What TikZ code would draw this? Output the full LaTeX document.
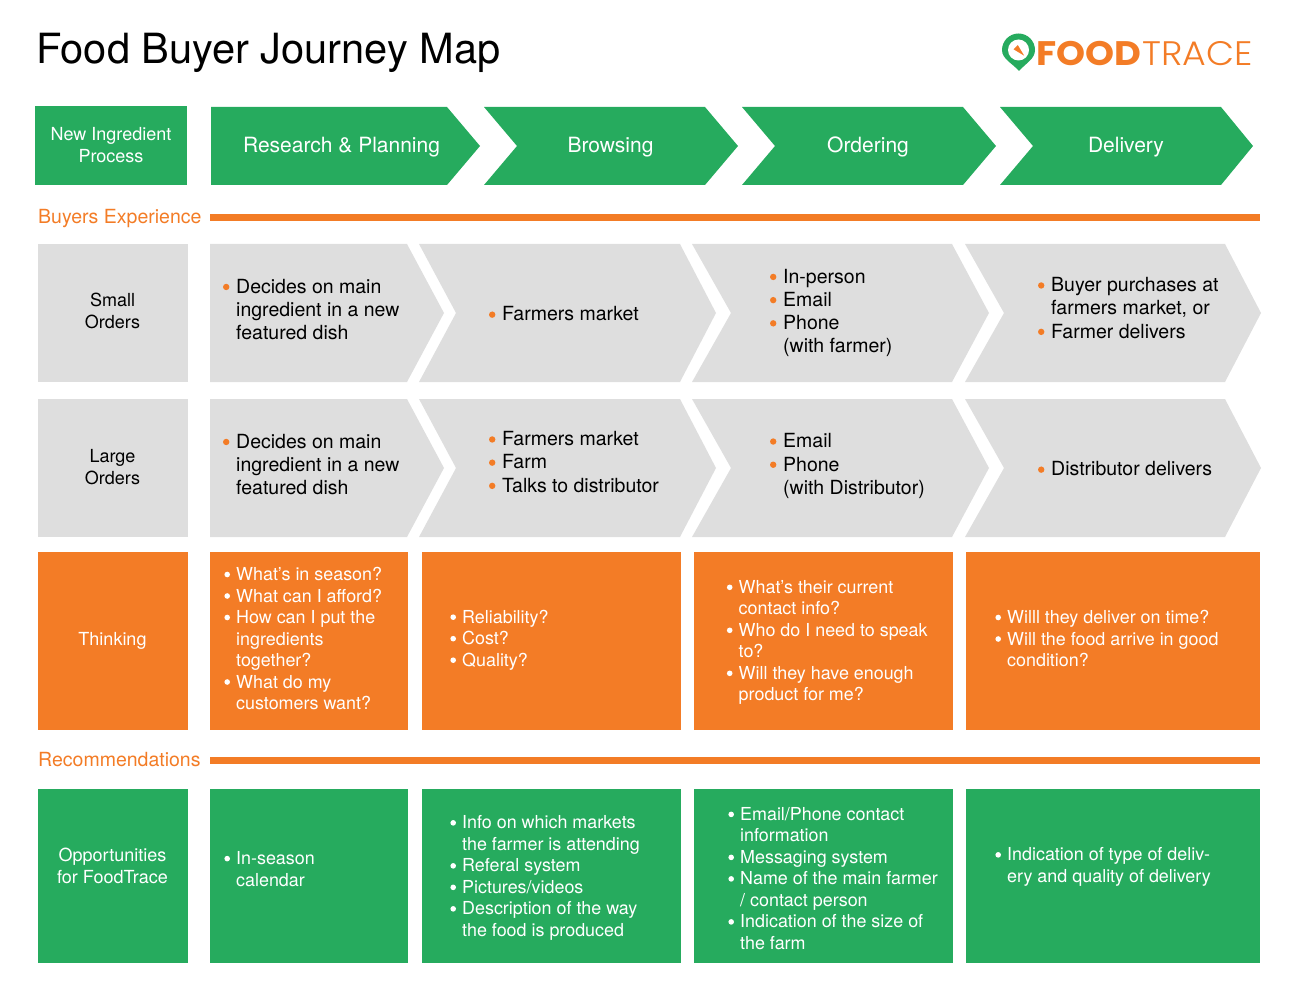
\documentclass[tikz,border=0pt]{standalone}
\usepackage{fontspec}
\setmainfont{TeX Gyre Heros}
\newfontfamily\logobold{Poppins}[UprightFont=* Bold]
\newfontfamily\logolight{Poppins}[UprightFont=* Light]
\definecolor{ftgreen}{RGB}{38,171,94}
\definecolor{ftorange}{RGB}{243,124,38}
\definecolor{ftgrey}{RGB}{222,222,222}
\newcommand{\bl}{\leavevmode\llap{\tikz[baseline=-6pt]\fill[white] (0pt,0pt) circle[radius=2.8pt];\hspace{6.2pt}}}
\newcommand{\obl}{\leavevmode\llap{\tikz[baseline=-6.3pt]\fill[ftorange] (0pt,0pt) circle[radius=3.2pt];\hspace{6.8pt}}}
% fill colour, left x, notch x, shoulder x, tip x, top y, bottom y
\newcommand{\Chevron}[7]{\fill[#1] (#2,#6) -- (#4,#6) -- (#5,{(#6+#7)/2}) -- (#4,#7) -- (#2,#7) -- (#3,{(#6+#7)/2}) -- cycle;}
\tikzset{
  greenbox/.style   = {fill=ftgreen, inner sep=0pt},
  orangebox/.style  = {fill=ftorange, inner sep=0pt},
  greybox/.style    = {fill=ftgrey, inner sep=0pt},
  sidetext/.style   = {text=white, align=center, inner sep=0pt, font=\fontsize{18}{21.3}\selectfont},
  headtext/.style   = {text=white, font=\fontsize{21}{26}\selectfont},
  greylist/.style   = {anchor=west, align=left, inner sep=0pt, text=black, font=\fontsize{19.5}{23.2}\selectfont},
  whitelist/.style  = {anchor=west, align=left, inner sep=0pt, text=white, font=\fontsize{17.9}{21.5}\selectfont},
  sectiontext/.style= {anchor=west, inner sep=0pt, text=ftorange, font=\fontsize{19.5}{23}\selectfont}
}
\begin{document}
\begin{tikzpicture}[x=1pt,y=-1pt]
  \useasboundingbox (0,0) rectangle (1307,1000);
  % title and logo
  \node[anchor=west, inner sep=0pt, font=\fontsize{41.6}{50}\selectfont] (title) at (36,53) {Food Buyer Journey Map};
  \fill[ftgreen] (1019,71) .. controls (1012,63) and (1002,59) .. (1002,50) arc[start angle=180, end angle=0, x radius=16.5, y radius=-16.5] .. controls (1035,59) and (1026,63) .. (1019,71) -- cycle;
  \fill[white] (1018.5,50) circle[radius=10.5];
  \fill[ftorange, rotate around={45:(1018.5,50)}] (1018.5,58) -- (1015.5,46) -- (1021.5,46) -- cycle;
  \node[anchor=west, inner sep=0pt, text=ftorange, font=\logobold\fontsize{34}{38}\selectfont] (food) at (1036,54) {\scalebox{1.085}[1]{FOOD}};
  \node[anchor=west, inner sep=0pt, text=ftorange, font=\logolight\fontsize{34}{38}\selectfont] (trace) at (1142,54) {\scalebox{1.07}[1]{TRACE}};
  % header row
  \node[greenbox, minimum width=152, minimum height=79] (process) at (111,146) {};
  \node[sidetext] (processtext) at (111,145) {New Ingredient\\Process};
  \Chevron{ftgreen}{211}{211}{447}{480}{107}{185}
  \Chevron{ftgreen}{484}{517}{705}{738}{107}{185}
  \Chevron{ftgreen}{742}{775}{963}{996}{107}{185}
  \Chevron{ftgreen}{1000}{1033}{1221}{1253}{107}{185}
  \node[headtext] (research) at (341.5,147) {Research \& Planning};
  \node[headtext] (browsing) at (610.5,147) {Browsing};
  \node[headtext] (ordering) at (868,147) {Ordering};
  \node[headtext] (delivery) at (1126,147) {Delivery};
  % buyers experience
  \node[sectiontext] (buyers) at (38,219) {Buyers Experience};
  \fill[ftorange] (210,214) rectangle (1260,221);
  % small orders
  \node[greybox, minimum width=150, minimum height=138] (small) at (112.5,313) {};
  \node[sidetext, text=black] (smalltext) at (112.5,311) {Small\\Orders};
  \Chevron{ftgrey}{210}{210}{407}{444}{244}{382}
  \Chevron{ftgrey}{419}{456}{680}{716}{244}{382}
  \Chevron{ftgrey}{692}{731}{952}{989}{244}{382}
  \Chevron{ftgrey}{965}{1004}{1225}{1261}{244}{382}
  \node[greylist] (small1) at (236,309.5) {\obl Decides on main\\ingredient in a new\\featured dish};
  \node[greylist] (small2) at (502,314) {\obl Farmers market};
  \node[greylist] (small3) at (783,313) {\obl In-person\\\obl Email\\\obl Phone\\(with farmer)};
  \node[greylist] (small4) at (1051,308) {\obl Buyer purchases at\\farmers market, or\\\obl Farmer delivers};
  % large orders
  \node[greybox, minimum width=150, minimum height=138] (large) at (112.5,468) {};
  \node[sidetext, text=black] (largetext) at (112.5,467) {Large\\Orders};
  \Chevron{ftgrey}{210}{210}{407}{444}{399}{537}
  \Chevron{ftgrey}{419}{456}{680}{716}{399}{537}
  \Chevron{ftgrey}{692}{731}{952}{989}{399}{537}
  \Chevron{ftgrey}{965}{1004}{1225}{1261}{399}{537}
  \node[greylist] (large1) at (236,464.5) {\obl Decides on main\\ingredient in a new\\featured dish};
  \node[greylist] (large2) at (502,462) {\obl Farmers market\\\obl Farm\\\obl Talks to distributor};
  \node[greylist] (large3) at (783,466) {\obl Email\\\obl Phone\\(with Distributor)};
  \node[greylist] (large4) at (1051,469) {\obl Distributor delivers};
  % thinking
  \node[orangebox, minimum width=150, minimum height=178] (thinking) at (112.5,641) {};
  \node[sidetext] (thinkingtext) at (112.5,641) {Thinking};
  \node[orangebox, minimum width=198, minimum height=178] (think1box) at (309,641) {};
  \node[orangebox, minimum width=259, minimum height=178] (think2box) at (551.5,641) {};
  \node[orangebox, minimum width=259, minimum height=178] (think3box) at (823.5,641) {};
  \node[orangebox, minimum width=294, minimum height=178] (think4box) at (1113,641) {};
  \node[whitelist] (think1) at (236,638.5) {\bl What’s in season?\\\bl What can I afford?\\\bl How can I put the\\ingredients\\together?\\\bl What do my\\customers want?};
  \node[whitelist] (think2) at (462,640) {\bl Reliability?\\\bl Cost?\\\bl Quality?};
  \node[whitelist] (think3) at (738.5,642.5) {\bl What’s their current\\contact info?\\\bl Who do I need to speak\\to?\\\bl Will they have enough\\product for me?};
  \node[whitelist] (think4) at (1007,638.5) {\bl Willl they deliver on time?\\\bl Will the food arrive in good\\condition?};
  % recommendations
  \node[sectiontext] (recommend) at (38,760) {Recommendations};
  \fill[ftorange] (210,757) rectangle (1260,764);
  % opportunities
  \node[greenbox, minimum width=150, minimum height=174] (opportunities) at (112.5,876) {};
  \node[sidetext] (opportunitiestext) at (112.5,866) {Opportunities\\for FoodTrace};
  \node[greenbox, minimum width=198, minimum height=174] (opp1box) at (309,876) {};
  \node[greenbox, minimum width=259, minimum height=174] (opp2box) at (551.5,876) {};
  \node[greenbox, minimum width=259, minimum height=174] (opp3box) at (823.5,876) {};
  \node[greenbox, minimum width=294, minimum height=174] (opp4box) at (1113,876) {};
  \node[whitelist] (opp1) at (236,869) {\bl In-season\\calendar};
  \node[whitelist] (opp2) at (462,878) {\bl Info on which markets\\the farmer is attending\\\bl Referal system\\\bl Pictures/videos\\\bl Description of the way\\the food is produced};
  \node[whitelist] (opp3) at (740,878.5) {\bl Email/Phone contact\\information\\\bl Messaging system\\\bl Name of the main farmer\\/ contact person\\\bl Indication of the size of\\the farm};
  \node[whitelist] (opp4) at (1007,867) {\bl Indication of type of deliv-\\ery and quality of delivery};
\end{tikzpicture}
\end{document}
